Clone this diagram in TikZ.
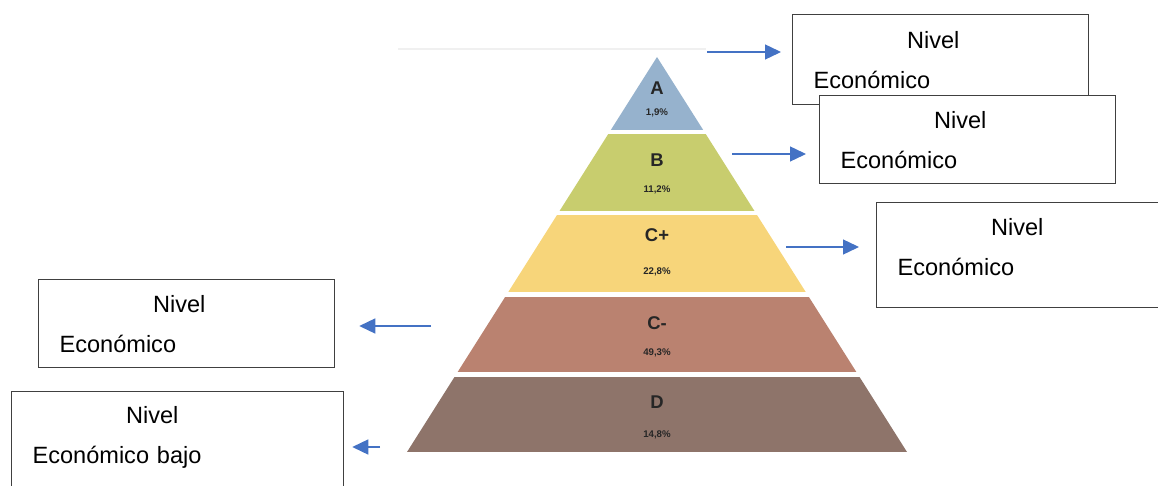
\documentclass[tikz,border=0pt]{standalone}
\usepackage{fontspec}
\setmainfont{Liberation Sans}
\usetikzlibrary{arrows.meta}
\definecolor{azulflecha}{HTML}{4472C4}
\definecolor{capaA}{HTML}{96B2CD}
\definecolor{capaB}{HTML}{C8CD6E}
\definecolor{capaCmas}{HTML}{F7D57A}
\definecolor{capaCmenos}{HTML}{BA8270}
\definecolor{capaD}{HTML}{8E746A}

\begin{document}
\begin{tikzpicture}
		[x=0.02cm, y=-0.02cm,
		nivel/.style={rectangle, draw=black!75, line width=0.75pt, fill=white, anchor=north west, inner xsep=0.42cm, inner ysep=0pt, minimum width=5.92cm, minimum height=1.8cm, text width=5.08cm, align=left, font=\fontsize{13.4}{22.8}\selectfont},
		flecha/.style={draw=azulflecha, line width=0.75pt, -{Triangle[length=0.32cm, width=0.3cm]}},
		letra/.style={font=\bfseries\fontsize{10.5}{11}\selectfont, text=black!85},
		pct/.style={font=\bfseries\fontsize{5.5}{6}\selectfont, text=black!85}]
		\useasboundingbox (0,0) rectangle (1158,486);
		\clip (0,0) rectangle (1158,486);

		% piramide
		\draw[black!6, line width=1.5pt] (398,49) -- (706,49);
		\begin{scope}
			\clip (657,57) -- (407,452) -- (907,452) -- cycle;
			\fill[capaA] (400,50) rectangle (910,130);
			\fill[capaB] (400,134) rectangle (910,211);
			\fill[capaCmas] (400,215) rectangle (910,292);
			\fill[capaCmenos] (400,297) rectangle (910,372);
			\fill[capaD] (400,377) rectangle (910,452);
		\end{scope}
		\node[letra] (A) at (657,88) {A};
		\node[pct] (pA) at (657,113) {1,9\%};
		\node[letra] (B) at (657,160) {B};
		\node[pct] (pB) at (657,190) {11,2\%};
		\node[letra] (Cmas) at (657,235) {C+};
		\node[pct] (pCmas) at (657,272) {22,8\%};
		\node[letra] (Cmenos) at (657,323) {C-};
		\node[pct] (pCmenos) at (657,353) {49,3\%};
		\node[letra] (D) at (657,402) {D};
		\node[pct] (pD) at (657,435) {14,8\%};

		% cuadros
		\node[nivel] (n1) at (792,14) {\hspace*{1.87cm}Nivel\\Económico};
		\node[nivel, minimum height=1.76cm] (n2) at (819,95) {\hspace*{1.87cm}Nivel\\Económico};
		\node[nivel, minimum height=2.1cm, text depth=1.12cm] (n3) at (876,202) {\hspace*{1.87cm}Nivel\\Económico};
		\node[nivel, minimum height=1.76cm] (n4) at (38,279) {\hspace*{1.87cm}Nivel\\Económico};
		\node[nivel, minimum width=6.64cm, text width=5.8cm, minimum height=2cm, text depth=1.06cm] (n5) at (11,391) {\hspace*{1.87cm}Nivel\\Económico bajo};

		% flechas
		\coordinate (s1) at (707,52);
		\coordinate (s2) at (732,154);
		\coordinate (s3) at (786,247);
		\coordinate (s4) at (431,326);
		\coordinate (s5) at (380,447);
		\draw[flecha, shorten >=0.22cm] (s1) -- (s1 -| n1.west);
		\draw[flecha, shorten >=0.26cm] (s2) -- (s2 -| n2.west);
		\draw[flecha, shorten >=0.34cm] (s3) -- (s3 -| n3.west);
		\draw[flecha, shorten >=0.48cm] (s4) -- (s4 -| n4.east);
		\draw[flecha, shorten >=0.16cm] (s5) -- (s5 -| n5.east);
	\end{tikzpicture}
\end{document}
